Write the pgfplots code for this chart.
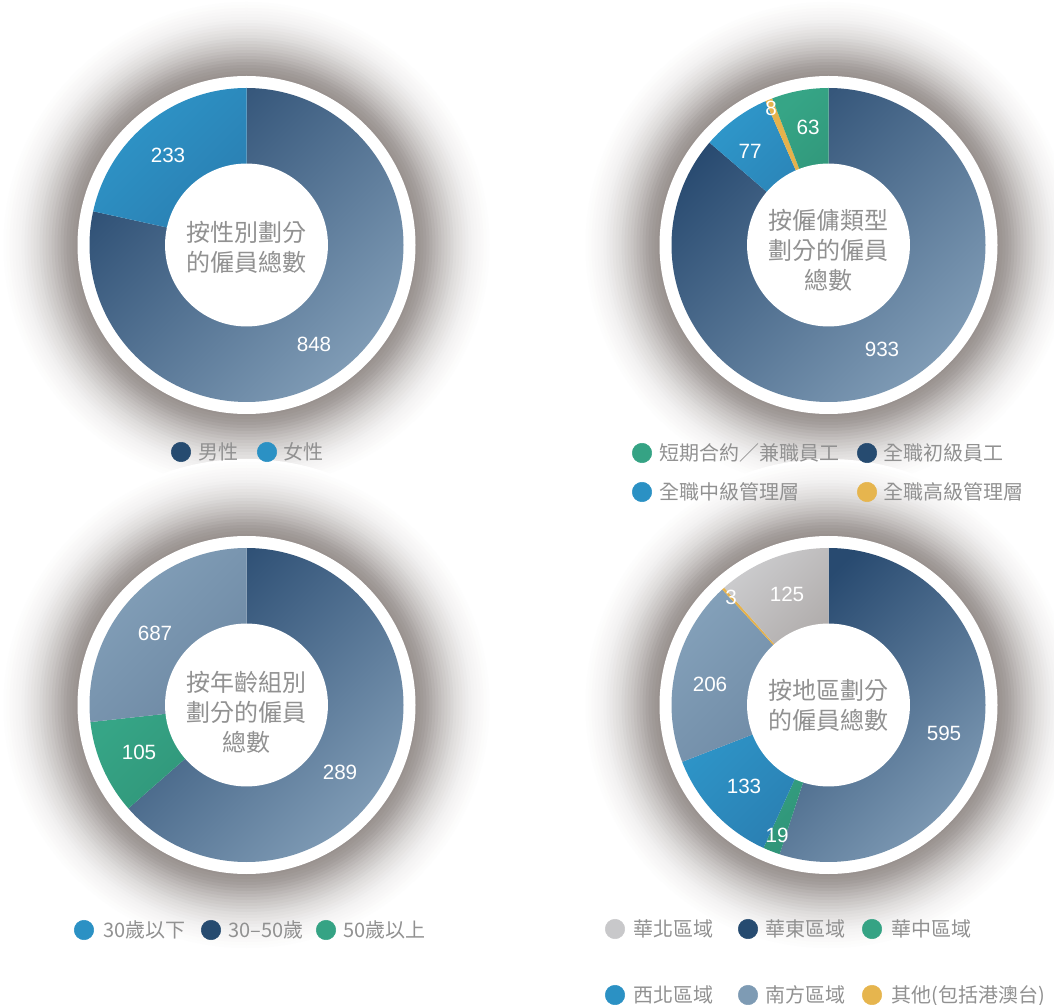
\documentclass[border=0pt]{standalone}
\usepackage{pgfplots}
\pgfplotsset{compat=1.18}
\usepackage{fontspec}
\setmainfont{Noto Sans CJK TC}
\newfontfamily\numfont{Liberation Sans}
\definecolor{navyD}{HTML}{284A70}
\definecolor{navyL}{HTML}{7F9BB5}
\definecolor{blueA}{HTML}{2E96C9}
\definecolor{blueB}{HTML}{2A7DB0}
\definecolor{greenA}{HTML}{36A586}
\definecolor{greenB}{HTML}{2F9276}
\definecolor{goldA}{HTML}{E5B24C}
\definecolor{grayA}{HTML}{CBCBCD}
\definecolor{grayB}{HTML}{A8A3A1}
\definecolor{gbA}{HTML}{84A1BA}
\definecolor{gbB}{HTML}{6D88A3}
\definecolor{legnavy}{HTML}{264B70}
\definecolor{legblue}{HTML}{2B91C4}
\definecolor{leggreen}{HTML}{35A384}
\definecolor{leggold}{HTML}{E6B54E}
\definecolor{leggray}{HTML}{C8C8CA}
\definecolor{leggb}{HTML}{7E9BB4}
\definecolor{txtgray}{HTML}{919191}
\definecolor{haloA}{RGB}{150,143,140}
% #1 cx, #2 cy, #3 cumulative start, #4 value, #5 total, #6 colour A, #7 colour B
\newcommand\seg[7]{%
 \shade[top color=#6, bottom color=#7, shading angle=45]
  (axis cs:#1,#2) -- ++({90-#3/#5*360}:117.75pt)
  arc[start angle={90-#3/#5*360}, end angle={90-(#3+#4)/#5*360}, radius=117.75pt] -- cycle;}
\newcommand\hr[4]{\fill[haloA!#4!white] (axis cs:#1,#2) circle[radius=#3pt];}
\newcommand\halo[2]{%
 \hr{#1}{#2}{184.5}{0.3}\hr{#1}{#2}{182.25}{1.5}%
 \hr{#1}{#2}{180}{3}\hr{#1}{#2}{177.75}{4.9}\hr{#1}{#2}{175.5}{6.9}\hr{#1}{#2}{173.25}{8.8}%
 \hr{#1}{#2}{171}{10.7}\hr{#1}{#2}{168.75}{13.2}\hr{#1}{#2}{166.5}{16.8}\hr{#1}{#2}{164.25}{20.4}%
 \hr{#1}{#2}{162}{24}\hr{#1}{#2}{159.75}{27.6}\hr{#1}{#2}{157.5}{31.7}\hr{#1}{#2}{155.25}{36.7}%
 \hr{#1}{#2}{153}{41.7}\hr{#1}{#2}{150.75}{46.7}\hr{#1}{#2}{148.5}{51.7}\hr{#1}{#2}{146.25}{57}%
 \hr{#1}{#2}{144}{63}\hr{#1}{#2}{141.75}{69}\hr{#1}{#2}{139.5}{75}\hr{#1}{#2}{137.25}{81}%
 \hr{#1}{#2}{135}{86.3}\hr{#1}{#2}{132.75}{90}\hr{#1}{#2}{130.5}{93.8}\hr{#1}{#2}{128.25}{97.5}}
\newcommand\donutbase[2]{%
 \fill[white] (axis cs:#1,#2) circle[radius=126.75pt];}
\newcommand\hole[2]{%
 \fill[white] (axis cs:#1,#2) circle[radius=61.1pt];}
\newcommand\lab[3]{\node[text=white, font=\numfont\fontsize{15.5}{18}\selectfont] at (axis cs:#1,#2) {#3};}
\newcommand\legtext[3]{\node[anchor=base west, inner sep=0pt, text=txtgray, font=\fontsize{15}{18}\selectfont] at (axis cs:#1,#2+7.6) {#3};}
\newcommand\legdot[3]{\addplot[only marks, mark=*, mark size=7.3pt, color=#3] coordinates {(#1,#2)};}
\begin{document}
\begin{tikzpicture}
\begin{axis}[name=main, hide axis, x=0.75pt, y=0.75pt, y dir=reverse,
  xmin=0, xmax=1054, ymin=0, ymax=1005, clip=false]
% halos
\halo{246.5}{245}\halo{828.5}{245}\halo{246.5}{705}\halo{828.5}{705}
\donutbase{246.5}{245}\donutbase{828.5}{245}\donutbase{246.5}{705}\donutbase{828.5}{705}
% chart 1: gender (male 848, female 233)
\seg{246.5}{245}{0}{848}{1081}{navyD}{navyL}
\seg{246.5}{245}{848}{233}{1081}{blueA}{blueB}
% chart 2: employment type (933, 77, 8, 63)
\seg{828.5}{245}{0}{933}{1081}{navyD}{navyL}
\seg{828.5}{245}{933}{77}{1081}{blueA}{blueB}
\seg{828.5}{245}{1010}{8}{1081}{goldA}{goldA}
\seg{828.5}{245}{1018}{63}{1081}{greenA}{greenB}
% chart 3: age (687, 105, 289)
\seg{246.5}{705}{0}{687}{1081}{navyD}{navyL}
\seg{246.5}{705}{687}{105}{1081}{greenA}{greenB}
\seg{246.5}{705}{792}{289}{1081}{gbA}{gbB}
% chart 4: region (595, 19, 133, 206, 3, 125)
\seg{828.5}{705}{0}{595}{1081}{navyD}{navyL}
\seg{828.5}{705}{595}{19}{1081}{greenA}{greenB}
\seg{828.5}{705}{614}{133}{1081}{blueA}{blueB}
\seg{828.5}{705}{747}{206}{1081}{gbA}{gbB}
\seg{828.5}{705}{953}{3}{1081}{goldA}{goldA}
\seg{828.5}{705}{956}{125}{1081}{grayA}{grayB}
\hole{246.5}{245}\hole{828.5}{245}\hole{246.5}{705}\hole{828.5}{705}
% value labels
\lab{168}{155}{233}\lab{314}{344}{848}
\lab{771}{108}{8}\lab{808}{127}{63}\lab{750}{151}{77}\lab{882}{349}{933}
\lab{155}{633}{687}\lab{139}{752}{105}\lab{340}{772}{289}
\lab{731}{597}{3}\lab{787}{594}{125}\lab{710}{684}{206}\lab{944}{733}{595}\lab{744}{786}{133}\lab{777}{835}{19}
% centre texts
\node[align=center, text=txtgray, font=\fontsize{18}{22.5}\selectfont] at (axis cs:246.5,247.5) {按性別劃分\\的僱員總數};
\node[align=center, text=txtgray, font=\fontsize{18}{22.5}\selectfont] at (axis cs:828.5,250) {按僱傭類型\\劃分的僱員\\總數};
\node[align=center, text=txtgray, font=\fontsize{18}{22.5}\selectfont] at (axis cs:246.5,712) {按年齡組別\\劃分的僱員\\總數};
\node[align=center, text=txtgray, font=\fontsize{18}{22.5}\selectfont] at (axis cs:828.5,705.5) {按地區劃分\\的僱員總數};
% legends
\legdot{181}{452}{legnavy}\legtext{198}{452}{男性}
\legdot{267}{452}{legblue}\legtext{283}{452}{女性}
\legdot{642}{453}{leggreen}\legtext{659}{453}{短期合約／兼職員工}
\legdot{867}{453}{legnavy}\legtext{883}{453}{全職初級員工}
\legdot{642}{492}{legblue}\legtext{659}{492}{全職中級管理層}
\legdot{867}{492}{leggold}\legtext{883}{492}{全職高級管理層}
\legdot{84}{930}{legblue}\legtext{103}{930}{30歲以下}
\legdot{211}{930}{legnavy}\legtext{228}{930}{30–50歲}
\legdot{326}{930}{leggreen}\legtext{343}{930}{50歲以上}
\legdot{615}{929}{leggray}\legtext{633}{929}{華北區域}
\legdot{748}{929}{legnavy}\legtext{765}{929}{華東區域}
\legdot{872}{929}{leggreen}\legtext{891}{929}{華中區域}
\legdot{615}{995}{legblue}\legtext{633}{995}{西北區域}
\legdot{748}{995}{leggb}\legtext{765}{995}{南方區域}
\legdot{872}{995}{leggold}\legtext{891}{995}{其他(包括港澳台)}
\end{axis}
\pgfresetboundingbox
\path (main.south west) rectangle (main.north east);
\end{tikzpicture}
\end{document}
